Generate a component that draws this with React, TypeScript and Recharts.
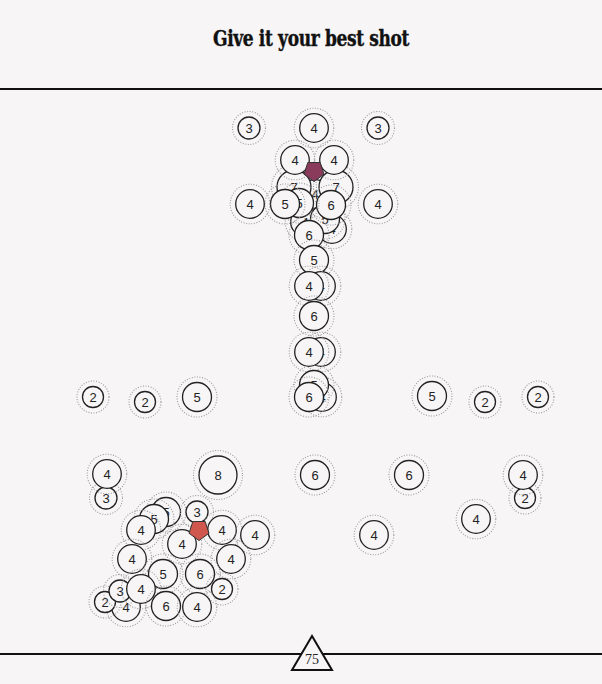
import { ScatterChart, Scatter, XAxis, YAxis, ReferenceLine, ReferenceDot } from 'recharts'

// shot positions (frame units, x across, y down) and the shot counts shown in each circle
const shotX = [
  249, 314, 378,
  332, 305, 315, 325, 294, 336, 331, 299, 295, 334, 285, 309, 250, 378,
  314, 321, 309, 314, 321, 309, 322, 314, 309,
  93, 145, 197, 432, 485, 538,
  106, 107, 218, 315, 409, 525, 523, 476, 374,
  166, 154, 141, 197, 222, 255, 182, 132, 231, 163, 200, 126, 105, 120, 141, 222, 166, 197,
]
const shotY = [
  128, 128, 128,
  229, 222, 194, 219, 187, 187, 205, 203, 160, 160, 204, 235, 204, 204,
  260, 286, 286, 316, 352, 352, 397, 385, 397,
  397, 402, 397, 396, 402, 397,
  498, 474, 475, 475, 475, 498, 475, 519, 535,
  512, 519, 530, 512, 530, 535, 544, 559, 559, 574, 574, 607, 602, 591, 589, 589, 606, 607,
]
const shotCount = [
  3, 4, 3,
  4, 4, 4, 5, 7, 7, 6, 5, 4, 4, 5, 6, 4, 4,
  5, 4, 4, 6, 4, 4, 4, 5, 6,
  2, 2, 5, 5, 2, 2,
  3, 4, 8, 6, 6, 2, 4, 4, 4,
  5, 5, 4, 3, 4, 4, 4, 4, 4, 5, 6, 4, 2, 3, 4, 2, 6, 4,
]

// highlighted spots
const markerX = [314, 199]
const markerY = [171, 530]
const markerColor = ['#8a3b5c', '#d0574d']

const shots = shotX.map((x, i) => ({ x, y: shotY[i], n: shotCount[i] }))
const markers = markerX.map((x, i) => ({ x, y: markerY[i], color: markerColor[i] }))

const BG = '#f7f5f6'
const radius: Record<number, number> = { 2: 10.5, 3: 11, 4: 14.3, 5: 14.5, 6: 14.5, 7: 17, 8: 19 }

const Bubble = (props: any) => {
  const { cx, cy, payload } = props
  const r = radius[payload.n] ?? 14
  return (
    <g>
      <circle cx={cx} cy={cy} r={r + 5.5} fill="none" stroke="#9b9b9b" strokeWidth={1.1} strokeDasharray="1 1.6" />
      <circle cx={cx} cy={cy} r={r} fill={BG} stroke="#222" strokeWidth={1.3} />
      <text
        x={cx}
        y={cy}
        textAnchor="middle"
        dominantBaseline="central"
        fontFamily="'Liberation Sans', Arial, sans-serif"
        fontSize={13}
        fill="#222"
      >
        {payload.n}
      </text>
    </g>
  )
}

const Pentagon = (props: any) => {
  const { cx, cy, payload } = props
  const r = 10.5
  const pts = [0, 1, 2, 3, 4]
    .map((k) => {
      const a = Math.PI / 2 + (k * 2 * Math.PI) / 5
      return `${cx + r * Math.cos(a)},${cy + r * Math.sin(a)}`
    })
    .join(' ')
  return <polygon points={pts} fill={payload.color} stroke="#333" strokeWidth={1} />
}

const Marker75 = (props: any) => {
  const { cx, cy } = props
  return (
    <g>
      <polygon
        points={`${cx},${cy - 22} ${cx - 20},${cy + 12} ${cx + 20},${cy + 12}`}
        fill={BG}
        stroke="#111"
        strokeWidth={2}
      />
      <text
        x={cx}
        y={cy + 1}
        textAnchor="middle"
        dominantBaseline="central"
        fontFamily="'Liberation Serif', serif"
        fontSize={14}
        fill="#222"
      >
        75
      </text>
    </g>
  )
}

export default function App() {
  return (
    <div style={{ position: 'absolute', left: 0, top: 0, width: 602, height: 684, background: BG }}>
      <div
        style={{
          position: 'absolute',
          left: 10,
          top: 25,
          width: 602,
          textAlign: 'center',
          fontFamily: "'DejaVu Serif Condensed', 'DejaVu Serif', serif",
          fontWeight: 'bold',
          fontStretch: 'condensed',
          fontSize: 22,
          color: '#111',
          transform: 'scaleX(0.86)',
          letterSpacing: -0.4,
          WebkitTextStroke: '0.4px #111',
        }}
      >
        Give it your best shot
      </div>
      <ScatterChart width={602} height={684} margin={{ top: 0, right: 0, bottom: 0, left: 0 }}>
        <XAxis type="number" dataKey="x" domain={[0, 602]} hide />
        <YAxis type="number" dataKey="y" domain={[0, 684]} reversed hide />
        <ReferenceLine y={89} stroke="#111" strokeWidth={2} />
        <ReferenceLine y={654} stroke="#111" strokeWidth={2} />
        <Scatter data={shots} shape={Bubble} isAnimationActive={false} />
        <Scatter data={markers} shape={Pentagon} isAnimationActive={false} />
        <ReferenceDot x={312} y={658} r={1} shape={Marker75} />
      </ScatterChart>
    </div>
  )
}
